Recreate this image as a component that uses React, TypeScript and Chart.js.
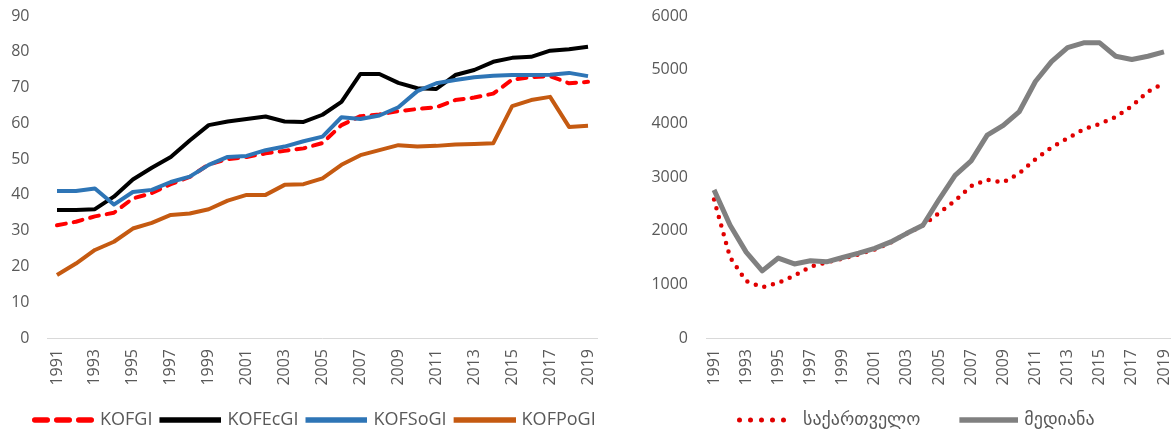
import React, { useEffect, useRef } from "react";
import { Chart, registerables } from "chart.js";

Chart.register(...registerables);

const years = [
  "1991", "1992", "1993", "1994", "1995", "1996", "1997", "1998", "1999", "2000",
  "2001", "2002", "2003", "2004", "2005", "2006", "2007", "2008", "2009", "2010",
  "2011", "2012", "2013", "2014", "2015", "2016", "2017", "2018", "2019",
];

const kofgi = [31.5, 32.5, 34, 35, 39, 40.5, 43, 45, 48.5, 50, 50.6, 51.6, 52.3, 53, 54.5, 59.5, 62, 62.5, 63.4, 64, 64.5, 66.5, 67.2, 68.3, 72.2, 72.9, 73.2, 71.2, 71.6];
const kofecgi = [35.8, 35.8, 36, 39.5, 44.3, 47.6, 50.6, 55.2, 59.5, 60.5, 61.2, 61.9, 60.5, 60.4, 62.4, 66, 73.8, 73.8, 71.3, 69.8, 69.6, 73.5, 74.9, 77.2, 78.3, 78.6, 80.3, 80.7, 81.4];
const kofsogi = [41.1, 41.1, 41.8, 37.3, 40.8, 41.4, 43.6, 45.1, 48.4, 50.6, 50.9, 52.5, 53.5, 55, 56.3, 61.7, 61.2, 62.2, 64.5, 69, 71.2, 72.1, 72.9, 73.3, 73.5, 73.5, 73.6, 74.1, 73.2];
const kofpogi = [17.6, 20.8, 24.6, 26.9, 30.6, 32.2, 34.4, 34.8, 36, 38.4, 40, 40, 42.8, 43, 44.6, 48.4, 51.1, 52.5, 53.9, 53.5, 53.7, 54.1, 54.2, 54.4, 64.8, 66.5, 67.4, 59, 59.3];

const georgia = [2580, 1500, 1060, 945, 1030, 1160, 1328, 1410, 1480, 1560, 1650, 1780, 1950, 2100, 2330, 2560, 2830, 2950, 2900, 3070, 3330, 3550, 3720, 3890, 3990, 4120, 4320, 4590, 4750];
const median = [2760, 2100, 1600, 1250, 1490, 1380, 1440, 1420, 1500, 1580, 1670, 1790, 1950, 2100, 2580, 3030, 3300, 3780, 3960, 4220, 4780, 5150, 5410, 5500, 5500, 5250, 5190, 5250, 5330];

const leftTicks = [0, 10, 20, 30, 40, 50, 60, 70, 80, 90];
const rightTicks = [0, 1000, 2000, 3000, 4000, 5000, 6000];

const leftNames = ["KOFGI", "KOFEcGI", "KOFSoGI", "KOFPoGI"];
const rightNames = ["საქართველო", "მედიანა"];

const TICK_FONT = { family: "'Open Sans', 'DejaVu Sans', sans-serif", size: 16 };
const LEGEND_FONT = { family: "'Open Sans', 'DejaVu Sans', sans-serif", size: 18 };
const TEXT_GRAY = "#595959";

// Legend sample image. Chart.js centres it on the legend box; the visible
// stroke runs from `start` to the image's right edge.
function makeSample(color: string, width: number, dash: number[], cap: CanvasLineCap, imgW: number, start: number) {
  const c = document.createElement("canvas");
  c.width = imgW;
  c.height = 10;
  const ctx = c.getContext("2d")!;
  ctx.strokeStyle = color;
  ctx.lineWidth = width;
  ctx.lineCap = cap;
  ctx.setLineDash(dash);
  const pad = cap === "round" ? width / 2 : 0;
  ctx.beginPath();
  ctx.moveTo(start + pad, 5);
  ctx.lineTo(imgW - pad, 5);
  ctx.stroke();
  return c;
}

// moves the legend row so that it starts at `startX` (canvas px)
function legendShift(startX: number) {
  return {
    id: "legendShift",
    afterLayout(chart: any) {
      const lg = chart.legend;
      if (!lg || !lg.lineWidths) return;
      const pad = lg.options.labels.padding;
      const start = (lg.left + pad + lg.right - lg.lineWidths[0]) / 2;
      const dx = startX - start;
      lg.left += dx;
      lg.right += dx;
    },
  };
}

function buildOptions(opts: {
  yMin: number; yMax: number; yStep: number; yWidth: number; xHeight: number;
  padRight: number; samples: HTMLCanvasElement[]; sampleWidth: number;
}) {
  return {
    responsive: false,
    animation: false as const,
    layout: { padding: { top: 16, left: 0, right: opts.padRight, bottom: 0 } },
    plugins: {
      tooltip: { enabled: false },
      legend: {
        position: "bottom" as const,
        labels: {
          usePointStyle: true,
          pointStyleWidth: opts.sampleWidth,
          padding: 8,
          color: TEXT_GRAY,
          font: LEGEND_FONT,
          sort: (a: any, b: any) => a.datasetIndex - b.datasetIndex,
          generateLabels: (chart: any) =>
            Chart.defaults.plugins.legend.labels.generateLabels(chart).map((l: any) => ({
              ...l,
              pointStyle: opts.samples[l.datasetIndex],
            })),
        },
      },
    },
    scales: {
      x: {
        type: "category" as const,
        offset: true,
        grid: { display: false, drawTicks: false },
        border: { display: true, color: "#D9D9D9", width: 1 },
        ticks: {
          autoSkip: false,
          minRotation: 90,
          maxRotation: 90,
          padding: 11,
          color: TEXT_GRAY,
          font: TICK_FONT,
          callback: (_v: any, i: number) => (i % 2 === 0 ? years[i] : ""),
        },
        afterFit: (s: any) => {
          s.height = opts.xHeight;
          s.paddingLeft = 0;
          s.paddingRight = 0;
        },
      },
      y: {
        min: opts.yMin,
        max: opts.yMax,
        grid: { display: false, drawTicks: false },
        border: { display: false },
        ticks: {
          stepSize: opts.yStep,
          padding: 18,
          color: TEXT_GRAY,
          font: TICK_FONT,
          callback: (v: any) => String(v),
        },
        afterFit: (s: any) => {
          s.width = opts.yWidth;
          s.paddingTop = 0;
          s.paddingBottom = 0;
        },
      },
    },
  };
}

export default function App() {
  const leftRef = useRef<HTMLCanvasElement>(null);
  const rightRef = useRef<HTMLCanvasElement>(null);

  useEffect(() => {
    const leftSamples = [
      makeSample("#FF0000", 5.5, [12.5, 9.5], "round", 64, 2),
      makeSample("#000000", 5.5, [], "butt", 64, 2),
      makeSample("#2E75B6", 5.5, [], "butt", 64, 2),
      makeSample("#C55A11", 5.5, [], "butt", 64, 2),
    ];
    // right legend: 30px transparent margin before each visible sample
    const rightSamples = [
      makeSample("#E00000", 5, [0, 11], "round", 93, 33),
      makeSample("#808080", 5.5, [], "butt", 93, 34),
    ];

    const common = { pointRadius: 0, pointHoverRadius: 0, tension: 0, fill: false, borderJoinStyle: "round" as const };

    const left = new Chart(leftRef.current!, {
      type: "line",
      data: {
        labels: years,
        datasets: [
          { label: leftNames[0], data: kofgi, borderColor: "#FF0000", backgroundColor: "#FF0000", borderWidth: 4, borderDash: [9, 8], borderCapStyle: "round", order: 4, ...common },
          { label: leftNames[1], data: kofecgi, borderColor: "#000000", backgroundColor: "#000000", borderWidth: 4, order: 3, ...common },
          { label: leftNames[2], data: kofsogi, borderColor: "#2E75B6", backgroundColor: "#2E75B6", borderWidth: 4, order: 2, ...common },
          { label: leftNames[3], data: kofpogi, borderColor: "#C55A11", backgroundColor: "#C55A11", borderWidth: 4, order: 1, ...common },
        ],
      },
      options: buildOptions({
        yMin: leftTicks[0], yMax: leftTicks[leftTicks.length - 1], yStep: leftTicks[1] - leftTicks[0],
        yWidth: 47.5, xHeight: 65, padRight: 22.5, samples: leftSamples, sampleWidth: 58,
      }) as any,
      plugins: [legendShift(33)],
    });

    const right = new Chart(rightRef.current!, {
      type: "line",
      data: {
        labels: years,
        datasets: [
          { label: rightNames[0], data: georgia, borderColor: "#E00000", backgroundColor: "#E00000", borderWidth: 4.5, borderDash: [0, 9], borderCapStyle: "round", order: 2, ...common },
          { label: rightNames[1], data: median, borderColor: "#808080", backgroundColor: "#808080", borderWidth: 5, order: 1, ...common },
        ],
      },
      options: buildOptions({
        yMin: rightTicks[0], yMax: rightTicks[rightTicks.length - 1], yStep: rightTicks[1] - rightTicks[0],
        yWidth: 86, xHeight: 65, padRight: 0, samples: rightSamples, sampleWidth: 87,
      }) as any,
      plugins: [legendShift(87)],
    });

    return () => {
      left.destroy();
      right.destroy();
    };
  }, []);

  return (
    <div style={{ position: "absolute", left: 0, top: 0, width: 1171, height: 432, overflow: "hidden", background: "#fff" }}>
      <canvas ref={leftRef} width={620} height={439} style={{ position: "absolute", left: 0, top: 0 }} />
      <canvas ref={rightRef} width={552} height={439} style={{ position: "absolute", left: 620, top: 0 }} />
    </div>
  );
}
